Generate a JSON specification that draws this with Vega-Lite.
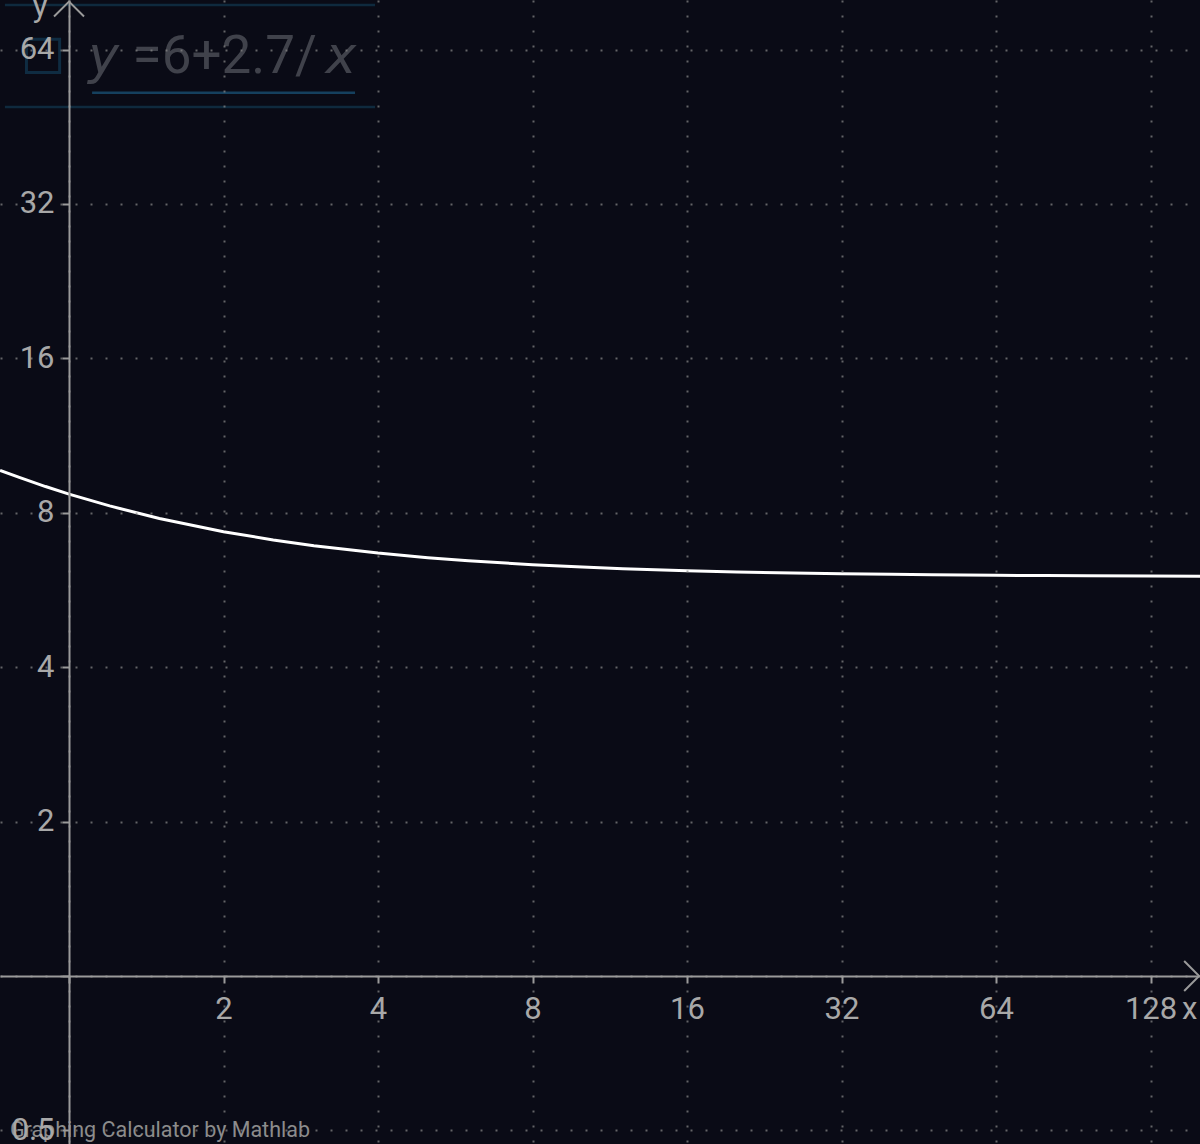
{
  "$schema": "https://vega.github.io/schema/vega-lite/v6.json",
  "width": 1200,
  "height": 1144,
  "autosize": {"type": "none"},
  "padding": 0,
  "background": "#0a0b16",
  "config": {"view": {"stroke": null}, "font": "Roboto"},
  "datasets": {
    "curve": [
      {"x": 0.734, "y": 9.678}, {"x": 0.8, "y": 9.375}, {"x": 0.9, "y": 9.0},
      {"x": 1, "y": 8.7}, {"x": 1.2, "y": 8.25}, {"x": 1.5, "y": 7.8},
      {"x": 2, "y": 7.35}, {"x": 2.5, "y": 7.08}, {"x": 3, "y": 6.9},
      {"x": 4, "y": 6.675}, {"x": 5, "y": 6.54}, {"x": 6, "y": 6.45},
      {"x": 8, "y": 6.3375}, {"x": 10, "y": 6.27}, {"x": 12, "y": 6.225},
      {"x": 16, "y": 6.169}, {"x": 20, "y": 6.135}, {"x": 24, "y": 6.1125},
      {"x": 32, "y": 6.084}, {"x": 40, "y": 6.0675}, {"x": 48, "y": 6.056},
      {"x": 64, "y": 6.042}, {"x": 80, "y": 6.034}, {"x": 96, "y": 6.028},
      {"x": 128, "y": 6.021}, {"x": 160, "y": 6.017}
    ],
    "arrows": [
      {"x": 159.2, "y": 1, "dir": "right"},
      {"x": 1, "y": 79.4, "dir": "up"}
    ],
    "axisNames": [
      {"x": 152.5, "y": 0.8585, "label": "x"},
      {"x": 0.878, "y": 77.1, "label": "y"}
    ],
    "legendLines": [
      {"x": 0.75, "x2": 3.947, "y": 78.2, "part": "frame"},
      {"x": 0.75, "x2": 3.947, "y": 49.46, "part": "frame"},
      {"x": 1.109, "x2": 3.608, "y": 52.7, "part": "underline"}
    ],
    "formula": [
      {"x": 1.09, "y": 57.6, "label": "y", "style": "italic"},
      {"x": 1.33, "y": 57.6, "label": "=6+2.7/", "style": "normal"},
      {"x": 3.16, "y": 57.6, "label": "x", "style": "italic"}
    ],
    "checkbox": [{"x": 0.89, "y": 62.2}],
    "watermark": [{"x": 0.767, "y": 0.4854, "label": "Graphing Calculator by Mathlab"}]
  },
  "encoding": {
    "x": {
      "field": "x", "type": "quantitative",
      "scale": {"type": "log", "base": 2, "domain": [0.7337, 159.8], "nice": false, "zero": false},
      "axis": {
        "orient": "bottom", "offset": -168, "title": null, "zindex": 1,
        "values": [1, 2, 4, 8, 16, 32, 64, 128],
        "format": "~g",
        "labelExpr": "datum.value == 1 ? '' : datum.label",
        "domainColor": "#9a9a9a", "domainWidth": 2,
        "tickColor": "#9a9a9a", "tickWidth": 2, "tickSize": 7,
        "labelColor": "#a8a8a8", "labelFont": "Roboto", "labelFontSize": 31,
        "labelPadding": 11, "labelOverlap": false, "labelFlush": false,
        "grid": true, "gridColor": "#8a8a8a", "gridOpacity": 0.7, "gridDash": [2, 13], "gridWidth": 2
      }
    },
    "y": {
      "field": "y", "type": "quantitative",
      "scale": {"type": "log", "base": 2, "domain": [0.4703, 79.96], "nice": false, "zero": false},
      "axis": {
        "orient": "left", "offset": -69, "title": null, "zindex": 1,
        "values": [0.5, 1, 2, 4, 8, 16, 32, 64],
        "format": "~g",
        "labelExpr": "datum.value == 1 ? '' : datum.label",
        "domainColor": "#9a9a9a", "domainWidth": 2,
        "tickColor": "#9a9a9a", "tickWidth": 2, "tickSize": 7,
        "labelColor": "#a8a8a8", "labelFont": "Roboto", "labelFontSize": 31,
        "labelPadding": 8, "labelOverlap": false, "labelFlush": false,
        "grid": true, "gridColor": "#8a8a8a", "gridOpacity": 0.7, "gridDash": [2, 13], "gridWidth": 2
      }
    }
  },
  "layer": [
    {
      "data": {"name": "legendLines"},
      "mark": {"type": "rule", "strokeWidth": 2.5},
      "encoding": {
        "x2": {"field": "x2"},
        "color": {"field": "part", "type": "nominal", "scale": {"domain": ["frame", "underline"], "range": ["#0f2a3e", "#15405e"]}, "legend": null}
      }
    },
    {
      "data": {"name": "checkbox"},
      "mark": {"type": "point", "shape": "square", "size": 1100, "filled": false, "stroke": "#0f2c42", "strokeWidth": 3, "opacity": 1},
      "encoding": {}
    },
    {
      "data": {"name": "formula"},
      "transform": [{"filter": "datum.style == 'italic'"}],
      "mark": {"type": "text", "align": "left", "baseline": "alphabetic", "fontSize": 52, "font": "DejaVu Sans", "fontStyle": "italic", "color": "#40424b"},
      "encoding": {"text": {"field": "label"}}
    },
    {
      "data": {"name": "formula"},
      "transform": [{"filter": "datum.style == 'normal'"}],
      "mark": {"type": "text", "align": "left", "baseline": "alphabetic", "fontSize": 53, "font": "Roboto", "color": "#40424b"},
      "encoding": {"text": {"field": "label"}}
    },
    {
      "data": {"name": "curve"},
      "mark": {"type": "line", "color": "#ffffff", "strokeWidth": 3, "clip": true},
      "encoding": {}
    },
    {
      "data": {"name": "arrows"},
      "mark": {"type": "point", "filled": false, "size": 900, "stroke": "#9a9a9a", "strokeWidth": 2, "opacity": 1},
      "encoding": {
        "shape": {"field": "dir", "type": "nominal", "scale": {"domain": ["right", "up"], "range": ["M-1,-1L0,0L-1,1", "M-1,1L0,0L1,1"]}, "legend": null}
      }
    },
    {
      "data": {"name": "axisNames"},
      "mark": {"type": "text", "align": "center", "baseline": "middle", "fontSize": 31, "font": "Roboto", "color": "#a8a8a8"},
      "encoding": {"text": {"field": "label"}}
    },
    {
      "data": {"name": "watermark"},
      "mark": {"type": "text", "align": "left", "baseline": "alphabetic", "fontSize": 21.5, "font": "Roboto", "color": "#8c8c8c"},
      "encoding": {"text": {"field": "label"}}
    }
  ]
}
